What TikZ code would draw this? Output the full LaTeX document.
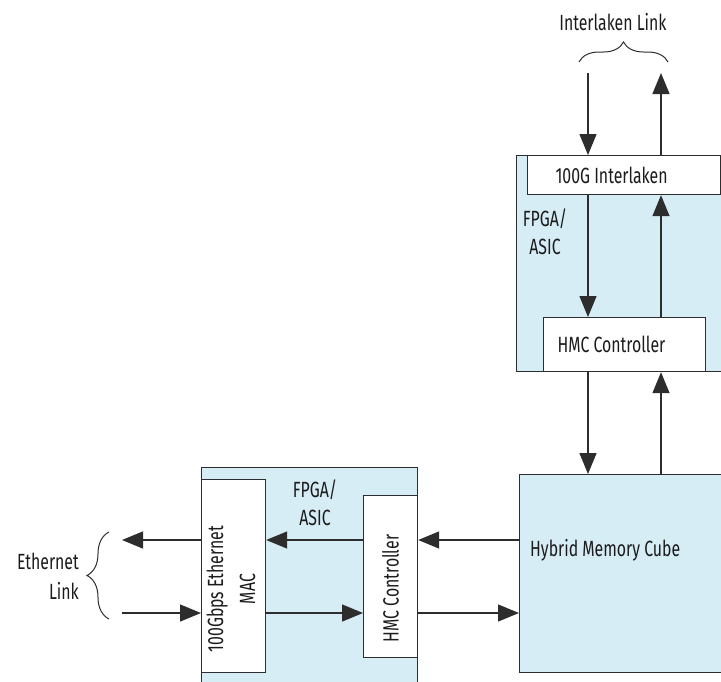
\documentclass[tikz,border=0pt]{standalone}
\usepackage{fontspec}
\setmainfont[FakeStretch=0.72]{Fira Sans}
\usetikzlibrary{arrows.meta}
\usetikzlibrary{decorations.pathreplacing}
\usetikzlibrary{positioning}
\definecolor{fpgablue}{RGB}{214,237,245}
\definecolor{lgray}{RGB}{45,45,45}
\tikzset{arr/.style = {line width=1.4pt, draw=lgray, -{Triangle[length=21pt, width=17pt]}},
         region/.style = {draw=lgray, line width=1.2pt, fill=fpgablue, anchor=north west, inner sep=0pt},
         box/.style = {draw=lgray, line width=1.2pt, fill=white, anchor=north west, inner sep=0pt},
         brace/.style = {decorate, decoration={brace, amplitude=#1}, line width=1pt, draw=lgray}}

\begin{document}
\begin{tikzpicture}[x=1pt, y=-1pt, font=\fontsize{22}{28}\selectfont, text=lgray!60!black]
    \clip (0,0) rectangle (721,681);

    % FPGA areas and the cube
    \node [region, minimum width=220, minimum height=216] (fpgaA) at (516,155) {};
    \node [region, minimum width=216, minimum height=230] (fpgaB) at (201,467) {};
    \node [region, minimum width=212, minimum height=198] (hmc) at (519,474) {};

    \node [box, minimum width=193, minimum height=39, inner xsep=28, text width=137, align=flush left] (ilk) at (527,155) {100G Interlaken};
    \node [box, minimum width=162, minimum height=54, inner xsep=14, text width=134, align=flush left] (hmcA) at (543,317) {HMC Controller};
    \node [box, minimum width=64, minimum height=193] (mac) at (201,479)
          {\rotatebox{90}{\begin{tabular}{@{}c@{}}100Gbps Ethernet\\[4pt]MAC\end{tabular}\hspace{26pt}}};
    \node [box, minimum width=54, minimum height=162] (hmcB) at (363,495)
          {\rotatebox{90}{HMC Controller\hspace{24pt}}};

    \node [inner sep=0pt, anchor=west, xshift=11pt, yshift=23pt] (cubetxt) at (hmc.west) {Hybrid Memory Cube};
    \node [align=center, inner sep=0pt] (fpgaAtxt) at (545,232) {FPGA/\\ASIC};
    \node [align=center, inner sep=0pt] (fpgaBtxt) at (315,503) {FPGA/\\ASIC};
    \node [inner sep=0pt] (ilktxt) at (613,22) {Interlaken Link};
    \node [align=right, inner sep=0pt, anchor=east] (ethtxt) at (79,576) {Ethernet\\[2pt]Link};

    \coordinate (ilkin) at (588,73);
    \coordinate (ilkout) at (661,73);
    \coordinate (ethout) at (122,540);
    \coordinate (ethin) at (122,613);

    % interlaken side
    \draw [arr] (ilkin) -- (ilk.north -| ilkin);
    \draw [arr] (ilk.north -| ilkout) -- (ilkout);
    \draw [arr] (ilk.south -| ilkin) -- (hmcA.north -| ilkin);
    \draw [arr] (hmcA.north -| ilkout) -- (ilk.south -| ilkout);
    \draw [arr] (hmcA.south -| ilkin) -- (hmc.north -| ilkin);
    \draw [arr] (hmc.north -| ilkout) -- (hmcA.south -| ilkout);

    % ethernet side
    \draw [arr] (hmc.west |- ethout) -- (hmcB.east |- ethout);
    \draw [arr] (hmcB.west |- ethout) -- (mac.east |- ethout);
    \draw [arr] (mac.west |- ethout) -- (ethout);
    \draw [arr] (ethin) -- (mac.west |- ethin);
    \draw [arr] (mac.east |- ethin) -- (hmcB.west |- ethin);
    \draw [arr] (hmcB.east |- ethin) -- (hmc.west |- ethin);

    \draw [brace=20pt] (579,62) -- (668,62);
    \draw [brace=22pt] (109,619) -- (109,532);
\end{tikzpicture}
\end{document}
